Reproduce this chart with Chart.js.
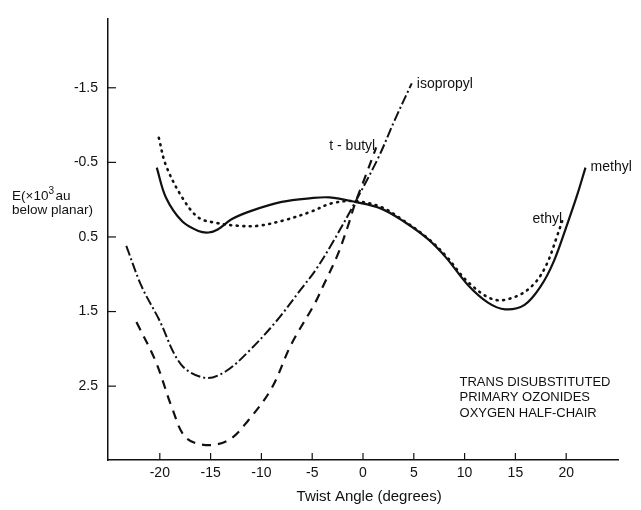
<!DOCTYPE html>
<html>
<head>
<meta charset="utf-8">
<script src="https://cdn.jsdelivr.net/npm/chart.js@4.4.1/dist/chart.umd.min.js"></script>
<style>
  html, body { margin: 0; padding: 0; background: #fff; }
  #wrap { width: 641px; height: 510px; }
</style>
</head>
<body>
<div id="wrap"><canvas id="chart" width="641" height="510"></canvas></div>
<script>
// Data (x = twist angle in degrees, y = E x10^3 au below planar)
const methylX = [-20.3, -19.4, -17.8, -16.2, -15.2, -14.3, -12.9, -11, -8, -5.1, -3.3, -0.8, 1.8, 4.1, 6.4, 8.2, 10.3, 12.3, 14, 15.9, 17.5, 18.8, 20.1, 21.1, 21.9]
const methylY = [-0.43, -0.03, 0.29, 0.42, 0.44, 0.4, 0.26, 0.15, 0.03, -0.02, -0.03, 0.03, 0.12, 0.3, 0.53, 0.78, 1.14, 1.38, 1.47, 1.41, 1.16, 0.82, 0.33, -0.07, -0.43]

const ethylX = [-20.1, -19.4, -17.8, -16.2, -14.5, -12.3, -10.3, -7.6, -5.1, -3.1, -0.8, 1.8, 4.1, 6.4, 8.2, 10.3, 12.9, 15.2, 16.9, 18.1, 19.1, 19.6]
const ethylY = [-0.83, -0.46, -0.03, 0.24, 0.31, 0.35, 0.35, 0.27, 0.16, 0.05, 0.02, 0.1, 0.29, 0.52, 0.76, 1.1, 1.34, 1.29, 1.12, 0.86, 0.49, 0.29]

const isopropylX = [-23.3, -21.8, -20.1, -17.9, -15.5, -13.5, -11.3, -8.6, -6.1, -4.7, -3.1, -0.8, 1.5, 3.1, 4.8]
const isopropylY = [0.62, 1.16, 1.6, 2.21, 2.39, 2.3, 2.04, 1.64, 1.2, 0.95, 0.6, 0.04, -0.56, -1.06, -1.56]

const tbutylX = [-22.3, -20.4, -18.8, -17.5, -15.5, -13.2, -11.3, -9, -7.1, -4.7, -3.9, -2.5, -1.5, -0.8, 0.2, 1.3]
const tbutylY = [1.64, 2.17, 2.79, 3.18, 3.29, 3.22, 2.96, 2.53, 1.95, 1.38, 1.15, 0.74, 0.36, 0.06, -0.3, -0.7]

// Tick labels
const xTicks = [-20, -15, -10, -5, 0, 5, 10, 15, 20]
const yTicks = [-1.5, -0.5, 0.5, 1.5, 2.5]

const FONT = '"Liberation Sans", Arial, Helvetica, sans-serif'

const toPoints = (xs, ys) => xs.map((x, i) => ({ x, y: ys[i] }))

// Curve labels and note, placed in data coordinates
const curveLabels = [
  { text: 'isopropyl', x: 5.3, y: -1.55, align: 'left' },
  { text: 't - butyl', x: 1.2, y: -0.72, align: 'right' },
  { text: 'methyl', x: 22.4, y: -0.43, align: 'left' },
  { text: 'ethyl', x: 19.6, y: 0.26, align: 'right' },
]
const noteLines = ['TRANS DISUBSTITUTED', 'PRIMARY OZONIDES', 'OXYGEN HALF-CHAIR']

/*--------------------------------------------
  Extra drawing: inward ticks, labels, titles
---------------------------------------------*/
const decorations = {
  id: 'decorations',
  afterDraw(chart) {
    const { ctx, chartArea, scales } = chart
    const xs = scales.x
    const ys = scales.y
    ctx.save()
    ctx.strokeStyle = '#111'
    ctx.lineWidth = 1.2

    // inward tick marks
    yTicks.forEach((v) => {
      const py = ys.getPixelForValue(v)
      ctx.beginPath()
      ctx.moveTo(chartArea.left, py)
      ctx.lineTo(chartArea.left + 8, py)
      ctx.stroke()
    })
    xTicks.forEach((v) => {
      const px = xs.getPixelForValue(v)
      ctx.beginPath()
      ctx.moveTo(px, chartArea.bottom)
      ctx.lineTo(px, chartArea.bottom - 7)
      ctx.stroke()
    })

    ctx.fillStyle = '#111'
    ctx.textBaseline = 'middle'

    // curve labels
    ctx.font = `14px ${FONT}`
    curveLabels.forEach((l) => {
      ctx.textAlign = l.align
      ctx.fillText(l.text, xs.getPixelForValue(l.x), ys.getPixelForValue(l.y))
    })

    // note box
    ctx.font = `13px ${FONT}`
    ctx.textAlign = 'left'
    const nx = xs.getPixelForValue(9.5)
    const ny = ys.getPixelForValue(2.45)
    noteLines.forEach((t, i) => ctx.fillText(t, nx, ny + i * 15.5))

    // y axis title
    const ty = ys.getPixelForValue(-0.04)
    const tx = chartArea.left - 96
    ctx.font = `13.5px ${FONT}`
    let w = 0
    ctx.fillText('E(×10', tx, ty)
    w += ctx.measureText('E(×10').width
    ctx.font = `10px ${FONT}`
    ctx.fillText('3', tx + w, ty - 5)
    w += ctx.measureText('3').width + 1.5
    ctx.font = `13.5px ${FONT}`
    ctx.fillText('au', tx + w, ty)
    ctx.fillText('below planar)', tx, ty + 14)

    // x axis title
    ctx.font = `15px ${FONT}`
    ctx.textAlign = 'center'
    ctx.fillText('Twist Angle (degrees)', xs.getPixelForValue(0.6), chart.height - 13)

    ctx.restore()
  },
}

new Chart(document.getElementById('chart'), {
  type: 'line',
  data: {
    datasets: [
      {
        label: 'methyl',
        data: toPoints(methylX, methylY),
        borderColor: '#111',
        borderWidth: 2.2,
      },
      {
        label: 'ethyl',
        data: toPoints(ethylX, ethylY),
        borderColor: '#111',
        borderWidth: 2.6,
        borderDash: [1, 5.5],
        borderCapStyle: 'round',
      },
      {
        label: 'isopropyl',
        data: toPoints(isopropylX, isopropylY),
        borderColor: '#111',
        borderWidth: 2,
        borderDash: [10, 3, 2, 3],
      },
      {
        label: 't-butyl',
        data: toPoints(tbutylX, tbutylY),
        borderColor: '#111',
        borderWidth: 2.2,
        borderDash: [9, 7],
      },
    ],
  },
  options: {
    responsive: false,
    animation: false,
    layout: { padding: { top: 10, right: 23, left: 0, bottom: 0 } },
    elements: {
      point: { radius: 0 },
      line: { tension: 0.35, fill: false },
    },
    plugins: {
      legend: { display: false },
      tooltip: { enabled: false },
    },
    scales: {
      x: {
        type: 'linear',
        min: -25.1,
        max: 25.1,
        afterBuildTicks(scale) {
          scale.ticks = xTicks.map((v) => ({ value: v }))
        },
        afterFit(scale) {
          scale.height = 50
        },
        grid: { display: true, drawOnChartArea: false, drawTicks: false },
        border: { display: true, color: '#111', width: 1.5 },
        ticks: {
          padding: 5,
          color: '#111',
          font: { family: FONT, size: 14 },
          maxRotation: 0,
          autoSkip: false,
          callback: (v) => String(v),
        },
      },
      y: {
        type: 'linear',
        reverse: true,
        min: -2.43,
        max: 3.49,
        afterBuildTicks(scale) {
          scale.ticks = yTicks.map((v) => ({ value: v }))
        },
        afterFit(scale) {
          scale.width = 108
        },
        grid: { display: true, drawOnChartArea: false, drawTicks: false },
        border: { display: true, color: '#111', width: 1.5 },
        ticks: {
          padding: 10,
          color: '#111',
          font: { family: FONT, size: 14 },
          autoSkip: false,
          callback: (v) => v.toFixed(1),
        },
      },
    },
  },
  plugins: [decorations],
})
</script>
</body>
</html>
